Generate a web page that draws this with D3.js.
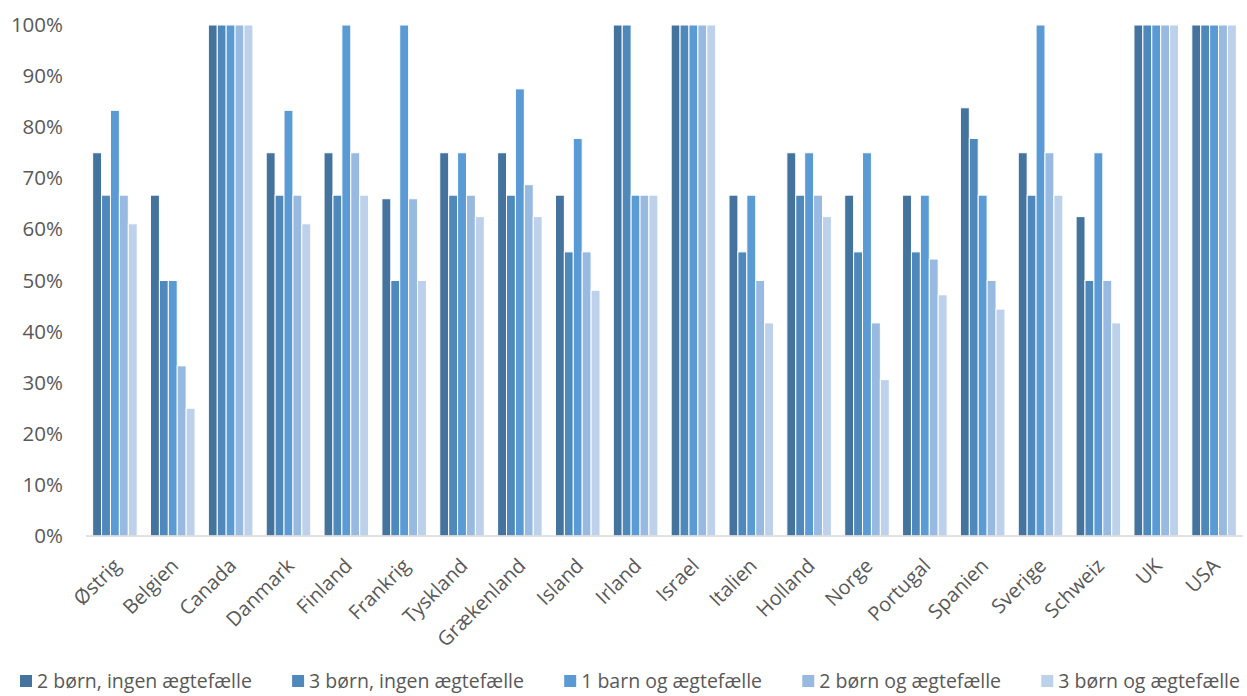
<!DOCTYPE html>
<html>
<head>
<meta charset="utf-8">
<script src="https://cdn.jsdelivr.net/npm/d3@7"></script>
<style>
  html, body { margin: 0; padding: 0; background: #fff; }
  svg { display: block; }
  text { font-family: "Open Sans", "DejaVu Sans", sans-serif; fill: #595959; }
</style>
</head>
<body>
<svg id="chart" width="1247" height="696"></svg>
<script>
const categories = ["Østrig","Belgien","Canada","Danmark","Finland","Frankrig","Tyskland","Grækenland","Island","Irland","Israel","Italien","Holland","Norge","Portugal","Spanien","Sverige","Schweiz","UK","USA"];
const seriesNames = ["2 børn, ingen ægtefælle","3 børn, ingen ægtefælle","1 barn og ægtefælle","2 børn og ægtefælle","3 børn og ægtefælle"];
const s1 = [0.75, 0.667, 1, 0.75, 0.75, 0.66, 0.75, 0.75, 0.667, 1, 1, 0.667, 0.75, 0.667, 0.667, 0.838, 0.75, 0.625, 1, 1];
const s2 = [0.667, 0.5, 1, 0.667, 0.667, 0.5, 0.667, 0.667, 0.556, 1, 1, 0.556, 0.667, 0.556, 0.556, 0.778, 0.667, 0.5, 1, 1];
const s3 = [0.833, 0.5, 1, 0.833, 1, 1, 0.75, 0.875, 0.778, 0.667, 1, 0.667, 0.75, 0.75, 0.667, 0.667, 1, 0.75, 1, 1];
const s4 = [0.667, 0.333, 1, 0.667, 0.75, 0.66, 0.667, 0.6875, 0.556, 0.667, 1, 0.5, 0.667, 0.417, 0.542, 0.5, 0.75, 0.5, 1, 1];
const s5 = [0.611, 0.25, 1, 0.611, 0.667, 0.5, 0.625, 0.625, 0.481, 0.667, 1, 0.417, 0.625, 0.306, 0.472, 0.444, 0.667, 0.417, 1, 1];
const yTicks = [0, 0.1, 0.2, 0.3, 0.4, 0.5, 0.6, 0.7, 0.8, 0.9, 1.0];
const colors = ["#44739E", "#4F89BC", "#5B9BD5", "#98B9E0", "#BDD1EB"];

const seriesValues = [s1, s2, s3, s4, s5];

const svg = d3.select("#chart");
const plot = { left: 86, right: 1243, top: 25, bottom: 536 };

const x0 = d3.scaleBand().domain(categories).range([plot.left, plot.right])
  .paddingInner(0.23).paddingOuter(0.115);
const x1 = d3.scaleBand().domain(d3.range(seriesNames.length)).range([0, x0.bandwidth()]);
const y = d3.scaleLinear().domain([0, 1]).range([plot.bottom, plot.top]);
const color = d3.scaleOrdinal().domain(d3.range(seriesNames.length)).range(colors);

// bars
const groups = svg.append("g").selectAll("g")
  .data(categories).join("g")
  .attr("transform", d => `translate(${x0(d)},0)`);

groups.selectAll("rect")
  .data((c, ci) => seriesValues.map((vals, si) => ({ si, v: vals[ci] })))
  .join("rect")
  .attr("x", d => x1(d.si))
  .attr("width", x1.bandwidth())
  .attr("y", d => y(d.v))
  .attr("height", d => y(0) - y(d.v))
  .attr("fill", d => color(d.si))
  .attr("stroke", "#ffffff")
  .attr("stroke-width", 1);

// y axis labels
const yAxis = d3.axisLeft(y).tickValues(yTicks).tickFormat(d3.format(".0%")).tickSize(0).tickPadding(0);
const ya = svg.append("g").attr("transform", `translate(63,0)`).call(yAxis);
ya.select(".domain").remove();
ya.selectAll("text").attr("font-size", 20.5).attr("fill", "#595959")
  .style("font-family", '"Open Sans", sans-serif');

// baseline
svg.append("line")
  .attr("x1", plot.left).attr("x2", plot.right)
  .attr("y1", y(0)).attr("y2", y(0))
  .attr("stroke", "#D9D9D9").attr("stroke-width", 1.5);

// x labels
const xAxis = d3.axisBottom(x0).tickSize(0).tickPadding(0);
const xa = svg.append("g").attr("transform", `translate(0,${plot.bottom})`).call(xAxis);
xa.select(".domain").remove();
xa.selectAll("text")
  .attr("font-size", 20)
  .attr("fill", "#595959")
  .style("font-family", '"Open Sans", sans-serif')
  .attr("text-anchor", "end")
  .attr("dy", 0)
  .attr("y", 0)
  .attr("transform", "translate(7,31) rotate(-45)");

// legend
const legend = svg.append("g");
const items = legend.selectAll("g").data(seriesNames).join("g");
items.append("rect")
  .attr("width", 12).attr("height", 12).attr("y", -6)
  .attr("fill", (d, i) => color(i));
items.append("text")
  .attr("x", 17).attr("y", 0).attr("dy", "0.35em")
  .attr("font-size", 19.5)
  .style("font-family", '"Open Sans", sans-serif')
  .text(d => d);
// layout horizontally, spread across the chart width
const legendLeft = 20, legendRight = 1240;
const widths = [];
items.each(function() { widths.push(this.getBBox().width); });
const gap = Math.max(10, (legendRight - legendLeft - d3.sum(widths)) / (widths.length - 1));
let cx = legendLeft;
items.attr("transform", (d, i) => {
  const t = `translate(${cx},681)`;
  cx += widths[i] + gap;
  return t;
});
</script>
</body>
</html>
